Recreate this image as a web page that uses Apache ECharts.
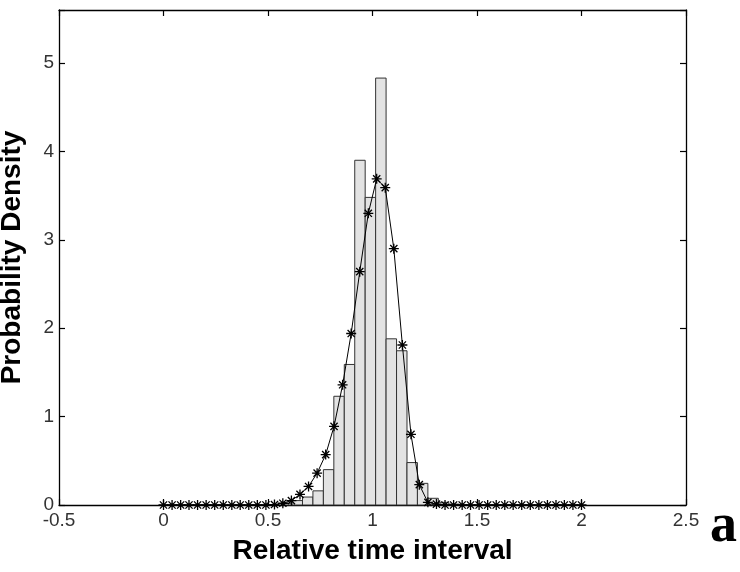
<!DOCTYPE html>
<html><head><meta charset="utf-8">
<script src="https://cdn.jsdelivr.net/npm/echarts@6/dist/echarts.min.js"></script>
<style>html,body{margin:0;padding:0;background:#fff}#c{width:740px;height:572px}</style>
</head><body><div id="c"></div>
<script>
// Histogram bins (centers, bin width 0.05) and densities
const binCenters = [0.59,0.64,0.69,0.74,0.79,0.84,0.89,0.94,0.99,1.04,1.09,1.14,1.19,1.24,1.29,1.34,1.39];
const binValues  = [0.02,0.05,0.09,0.16,0.40,1.23,1.59,3.90,3.48,4.83,1.88,1.745,0.48,0.245,0.076,0.03,0.01];
const binWidth = 0.05;
// Fitted density curve (asterisk markers)
const curveX = [0,0.041,0.082,0.122,0.163,0.204,0.245,0.286,0.327,0.367,0.408,0.449,0.490,0.531,0.571,0.612,0.653,0.694,0.735,0.776,0.816,0.857,0.898,0.939,0.980,1.020,1.061,1.102,1.143,1.184,1.224,1.265,1.306,1.347,1.388,1.429,1.469,1.510,1.551,1.592,1.633,1.673,1.714,1.755,1.796,1.837,1.878,1.918,1.959,2.000];
const curveY = [0,0,0,0,0,0,0,0,0,0,0,0,0,0.005,0.02,0.05,0.12,0.21,0.36,0.57,0.89,1.36,1.94,2.64,3.30,3.69,3.59,2.90,1.81,0.80,0.23,0.03,0.01,0,0,0,0,0,0,0,0,0,0,0,0,0,0,0,0,0];
const xTicks = [-0.5,0,0.5,1,1.5,2,2.5];
const yTicks = [0,1,2,3,4,5];

const chart = echarts.init(document.getElementById('c'), null, {renderer:'canvas'});
const axisLine = {show:true, onZero:false, lineStyle:{color:'#000', width:1.3}};
const tick = {show:true, inside:true, length:6, lineStyle:{color:'#000', width:1.2}};
const tickFont = {fontFamily:'Liberation Sans, Arial, sans-serif', fontSize:19, color:'#333'};
const nameFont = {fontFamily:'Liberation Sans, Arial, sans-serif', fontWeight:'bold', fontSize:28, color:'#000'};
const asterisk = 'path://M0,-1L0,1M-1,0L1,0M-0.72,-0.72L0.72,0.72M-0.72,0.72L0.72,-0.72';
chart.setOption({
  animation:false,
  backgroundColor:'#fff',
  grid:{left:59, right:54, top:10, bottom:67, containLabel:false, outerBoundsMode:'none'},
  graphic:[{type:'text', right:3, top:500, style:{text:'a', fontFamily:'Liberation Serif, Times New Roman, serif', fontWeight:'bold', fontSize:54, fill:'#000'}}],
  xAxis:[{
    type:'value', min:-0.5, max:2.5, interval:0.5, position:'bottom',
    name:'Relative time interval', nameLocation:'middle', nameGap:32,
    nameTextStyle:nameFont,
    axisLine:axisLine, axisTick:tick,
    axisLabel:Object.assign({margin:6, formatter:v=>(xTicks.indexOf(v)>=0?String(v):'')}, tickFont),
    splitLine:{show:false}
  },{
    type:'value', min:-0.5, max:2.5, interval:0.5, position:'top',
    axisLine:axisLine, axisTick:tick,
    axisLabel:{show:false}, splitLine:{show:false}
  }],
  yAxis:[{
    type:'value', min:0, max:5.6, interval:1, position:'left',
    name:'Probability Density', nameLocation:'middle', nameGap:33, nameRotate:90,
    nameTextStyle:nameFont,
    axisLine:axisLine, axisTick:tick,
    axisLabel:Object.assign({margin:5, formatter:v=>(yTicks.indexOf(v)>=0?String(v):'')}, tickFont),
    splitLine:{show:false}
  },{
    type:'value', min:0, max:5.6, interval:1, position:'right',
    axisLine:axisLine, axisTick:tick,
    axisLabel:{show:false}, splitLine:{show:false}
  }],
  series:[{
    type:'custom',
    data: binCenters.map((c,i)=>[c, binValues[i]]),
    renderItem:function(params, api){
      const c = api.value(0), v = api.value(1);
      const p0 = api.coord([c-binWidth/2, 0]);
      const p1 = api.coord([c+binWidth/2, v]);
      return {type:'rect', shape:{x:p0[0], y:p1[1], width:p1[0]-p0[0], height:p0[1]-p1[1]},
        style:{fill:'#e3e3e3', stroke:'#333', lineWidth:1}};
    },
    z:2
  },{
    type:'line',
    data: curveX.map((x,i)=>[x, curveY[i]]),
    symbol:asterisk, symbolSize:10, showAllSymbol:true,
    lineStyle:{color:'#000', width:1},
    itemStyle:{color:'#000', borderColor:'#000', borderWidth:1.3},
    z:3
  }]
});
</script></body></html>
